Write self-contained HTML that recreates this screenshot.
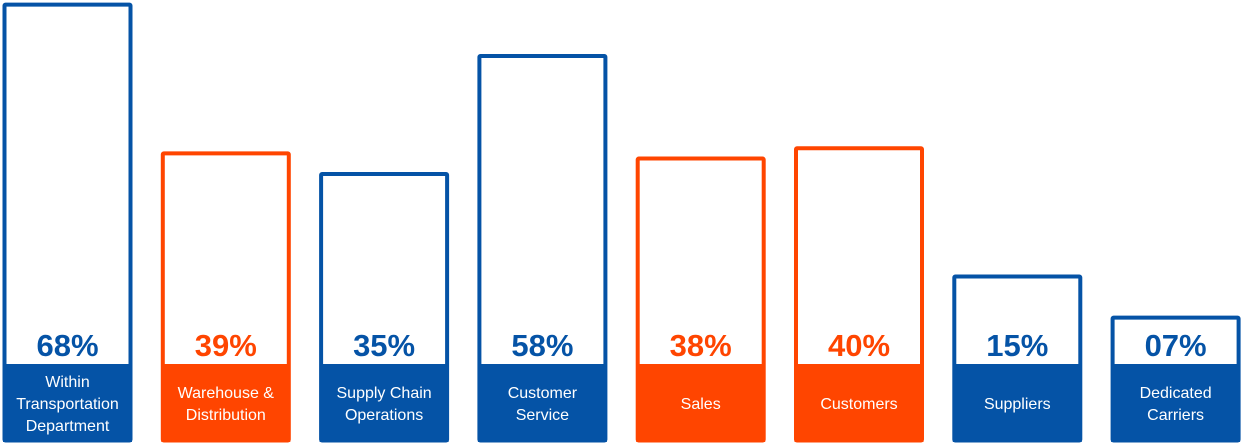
<!DOCTYPE html>
<html><head><meta charset="utf-8"><style>
html,body{margin:0;padding:0;background:#fff;}
svg{display:block;font-family:"Liberation Sans",sans-serif;}
</style></head><body>
<svg id="chart" width="1242" height="444" viewBox="0 0 1242 444"></svg>
<script>
const categories = [["Within","Transportation","Department"],["Warehouse &","Distribution"],["Supply Chain","Operations"],["Customer","Service"],["Sales"],["Customers"],["Suppliers"],["Dedicated","Carriers"]];
const values = [68,39,35,58,38,40,15,7];
const valueLabels = ["68%","39%","35%","58%","38%","40%","15%","07%"];
const seriesColor = ["blue","orange","blue","blue","orange","orange","blue","blue"];
const palette = {blue:"#0553A6", orange:"#FF4500"};
const svg = document.getElementById('chart');
const NS = "http://www.w3.org/2000/svg";
const baseY = 364, bottomY = 442, bw = 129;
function xPos(i){ return 3 + i*158.3; }
function yPos(v){ return baseY - (12 + 5.13*v); }
function mk(tag, attrs){ const e=document.createElementNS(NS,tag); for(const k in attrs) e.setAttribute(k,attrs[k]); return e; }
values.forEach((v,i)=>{
  const c = palette[seriesColor[i]];
  const x = xPos(i), top = yPos(v);
  const g = mk('g',{});
  
  
  const r = mk('rect',{x:x+1.5,y:top+1.5,width:bw-3,height:bottomY-top-3,fill:'#fff',stroke:c,'stroke-width':4,rx:1});
  
  
  g.appendChild(r);
  const lb = mk('rect',{x:x,y:baseY,width:bw,height:bottomY-baseY,fill:c});
  
  
  g.appendChild(lb);
  const vt = mk('text',{x:x+bw/2,y:baseY-8,'text-anchor':'middle','font-size':31,'font-weight':'bold',fill:c});
  vt.textContent = valueLabels[i];
  
  
  g.appendChild(vt);
  const lines = categories[i];
  const lh = 22;
  const startY = baseY + (bottomY-baseY)/2 - (lines.length-1)*lh/2 + 6;
  lines.forEach((ln,j)=>{
    const t = mk('text',{x:x+bw/2,y:startY+j*lh,'text-anchor':'middle','font-size':16,fill:'#fff'});
    t.textContent = ln;
    
    
    g.appendChild(t);
  });
  svg.appendChild(g);
});
</script>
</body></html>
